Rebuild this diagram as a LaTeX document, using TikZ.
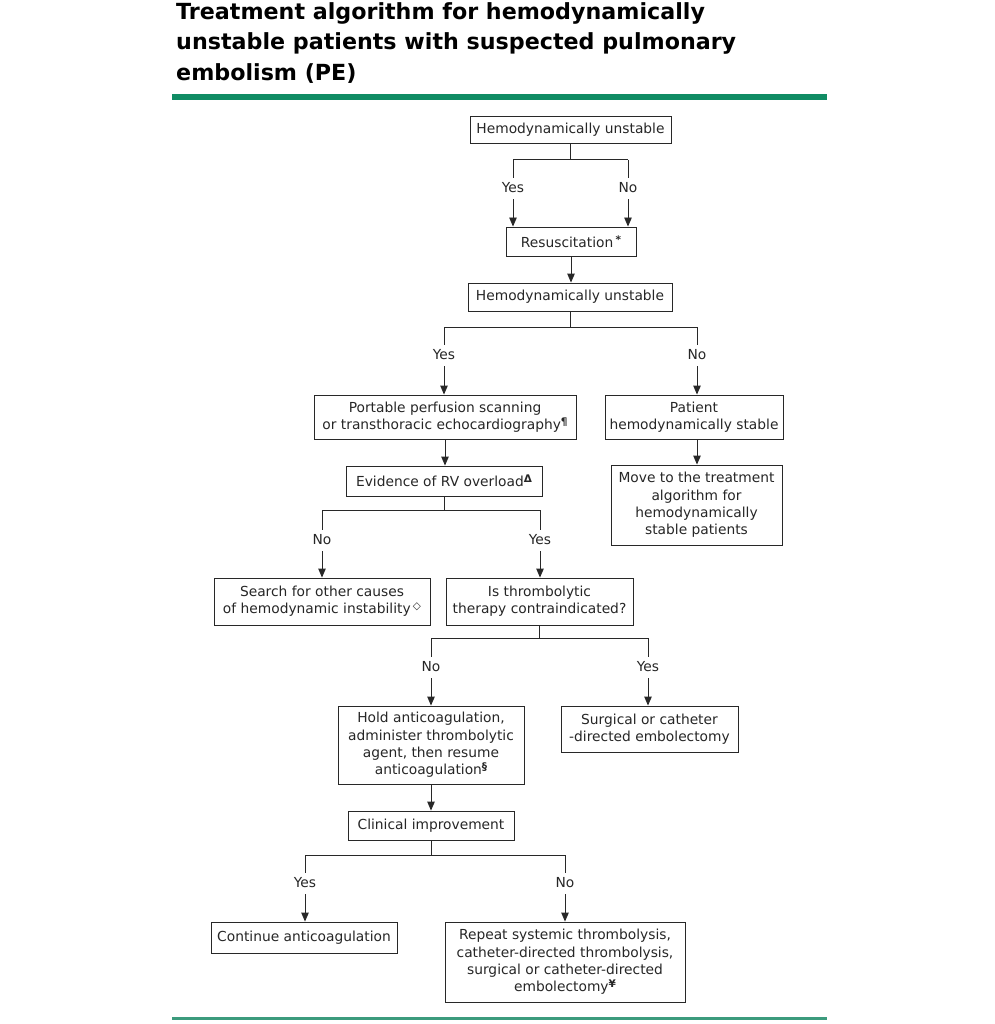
\documentclass[tikz,border=0pt]{standalone}
\usepackage{fontspec}
\setmainfont{DejaVu Sans}
\usetikzlibrary{arrows.meta}
\definecolor{hdrgreen}{RGB}{16,140,100}
\definecolor{ftrgreen}{RGB}{60,155,125}
\definecolor{linegray}{RGB}{40,40,40}
\tikzset{
  box/.style={draw=linegray, line width=0.9pt, align=center, inner sep=2pt,
    font=\fontsize{13.8}{17.3}\selectfont, text=black!85},
  lbl/.style={font=\fontsize{13.8}{16}\selectfont, inner sep=0pt, text=black!85},
  conn/.style={draw=linegray, line width=0.9pt},
  arr/.style={conn, -{Triangle[length=9pt,width=7.5pt]}},
}
\newcommand{\sfx}[1]{\raisebox{0.3em}{\bfseries\fontsize{10.5}{10.5}\selectfont #1}}
\begin{document}
\begin{tikzpicture}[x=1pt,y=-1pt]
\useasboundingbox (0,0) rectangle (994,1024);
% title
\node[anchor=north west, align=left, inner sep=0pt, font=\bfseries\fontsize{22.2}{30.5}\selectfont] (title) at (176,2)
  {Treatment algorithm for hemodynamically\\unstable patients with suspected pulmonary\\embolism (PE)};
\fill[hdrgreen] (172,94) rectangle (827,100);
\fill[ftrgreen] (172,1017) rectangle (827,1020);

% boxes
\node[box, minimum width=201pt, minimum height=27pt] (hu1) at (570.5,129.5) {Hemodynamically unstable};
\node[box, minimum width=130pt, minimum height=29pt] (res) at (571,241.5) {Resuscitation\,\sfx{*}};
\node[box, minimum width=204pt, minimum height=28pt] (hu2) at (570,297) {Hemodynamically unstable};
\node[box, minimum width=262pt, minimum height=44pt] (pps) at (445,417) {Portable perfusion scanning\\or transthoracic echocardiography\sfx{¶}};
\node[box, minimum width=178pt, minimum height=44pt] (pst) at (694,417) {Patient\\hemodynamically stable};
\node[box, minimum width=196pt, minimum height=30pt] (rv) at (444,481) {Evidence of RV overload\sfx{Δ}};
\node[box, minimum width=171pt, minimum height=80pt] (mov) at (696.5,505) {Move to the treatment\\algorithm for\\hemodynamically\\stable patients};
\node[box, minimum width=216pt, minimum height=47pt] (srch) at (322,601.5) {Search for other causes\\of hemodynamic instability\,\sfx{◇}};
\node[box, minimum width=187pt, minimum height=47pt] (thr) at (539.5,601.5) {Is thrombolytic\\therapy contraindicated?};
\node[box, minimum width=186pt, minimum height=78pt] (hold) at (431,745) {Hold anticoagulation,\\administer thrombolytic\\agent, then resume\\anticoagulation\sfx{§}};
\node[box, minimum width=177pt, minimum height=46pt] (surg) at (649.5,729) {Surgical or catheter\\-directed embolectomy};
\node[box, minimum width=166pt, minimum height=29pt] (clin) at (431,825.5) {Clinical improvement};
\node[box, minimum width=186pt, minimum height=31pt] (cont) at (304,937.5) {Continue anticoagulation};
\node[box, minimum width=240pt, minimum height=80pt] (rep) at (565,962) {Repeat systemic thrombolysis,\\catheter-directed thrombolysis,\\surgical or catheter-directed\\embolectomy\sfx{¥}};

% labels
\node[lbl] (y1) at (513,188) {Yes};
\node[lbl] (n1) at (628,188) {No};
\node[lbl] (y2) at (444,355) {Yes};
\node[lbl] (n2) at (697,355) {No};
\node[lbl] (n3) at (322,540) {No};
\node[lbl] (y3) at (540,540) {Yes};
\node[lbl] (n4) at (431,667) {No};
\node[lbl] (y4) at (648,667) {Yes};
\node[lbl] (y5) at (305,883) {Yes};
\node[lbl] (n5) at (565,883) {No};

% branch 1
\draw[conn] (hu1.south) -- ++(0,16.5) coordinate (b1);
\draw[conn] (y1.north |- b1) -- (n1.north |- b1);
\draw[conn] (y1.north |- b1) -- ([yshift=5pt]y1.north);
\draw[conn] (n1.north |- b1) -- ([yshift=5pt]n1.north);
\draw[arr] ([yshift=-6pt]y1.south) -- (y1.south |- res.north);
\draw[arr] ([yshift=-6pt]n1.south) -- (n1.south |- res.north);
\draw[arr] (res.south) -- (res.south |- hu2.north);

% branch 2
\draw[conn] (hu2.south) -- ++(0,16) coordinate (b2);
\draw[conn] (y2.north |- b2) -- (n2.north |- b2);
\draw[conn] (y2.north |- b2) -- ([yshift=5pt]y2.north);
\draw[conn] (n2.north |- b2) -- ([yshift=5pt]n2.north);
\draw[arr] ([yshift=-6pt]y2.south) -- (y2.south |- pps.north);
\draw[arr] ([yshift=-6pt]n2.south) -- (n2.south |- pst.north);
\draw[arr] (pps.south) -- (pps.south |- rv.north);
\draw[arr] (n2.south |- pst.south) -- (n2.south |- mov.north);

% branch 3
\draw[conn] (rv.south) -- ++(0,14) coordinate (b3);
\draw[conn] (n3.north |- b3) -- (y3.north |- b3);
\draw[conn] (n3.north |- b3) -- ([yshift=5pt]n3.north);
\draw[conn] (y3.north |- b3) -- ([yshift=5pt]y3.north);
\draw[arr] ([yshift=-6pt]n3.south) -- (n3.south |- srch.north);
\draw[arr] ([yshift=-6pt]y3.south) -- (y3.south |- thr.north);

% branch 4
\draw[conn] (thr.south) -- ++(0,13) coordinate (b4);
\draw[conn] (n4.north |- b4) -- (y4.north |- b4);
\draw[conn] (n4.north |- b4) -- ([yshift=5pt]n4.north);
\draw[conn] (y4.north |- b4) -- ([yshift=5pt]y4.north);
\draw[arr] ([yshift=-6pt]n4.south) -- (n4.south |- hold.north);
\draw[arr] ([yshift=-6pt]y4.south) -- (y4.south |- surg.north);
\draw[arr] (hold.south) -- (hold.south |- clin.north);

% branch 5
\draw[conn] (clin.south) -- ++(0,15) coordinate (b5);
\draw[conn] (y5.north |- b5) -- (n5.north |- b5);
\draw[conn] (y5.north |- b5) -- ([yshift=5pt]y5.north);
\draw[conn] (n5.north |- b5) -- ([yshift=5pt]n5.north);
\draw[arr] ([yshift=-6pt]y5.south) -- (y5.south |- cont.north);
\draw[arr] ([yshift=-6pt]n5.south) -- (n5.south |- rep.north);
\end{tikzpicture}
\end{document}
